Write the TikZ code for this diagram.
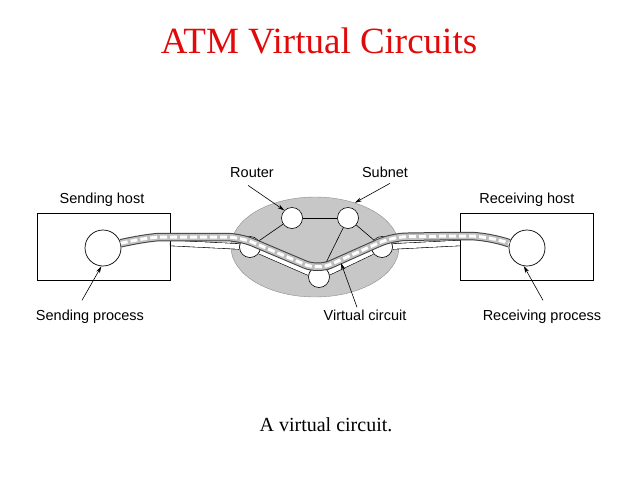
\documentclass[tikz,border=0pt]{standalone}
\usepackage{fontspec}
\setmainfont{Liberation Serif}
\setsansfont{Liberation Sans}
\usetikzlibrary{shapes.geometric,arrows.meta}
\pgfdeclarelayer{back}
\pgfsetlayers{back,main}
\definecolor{titlered}{RGB}{225,10,10}
\tikzset{
	host/.style={draw, line width=0.7pt, minimum width=133pt, minimum height=67pt, inner sep=0},
	proc/.style={draw, circle, line width=0.7pt, minimum size=36pt, inner sep=0},
	router/.style={draw, circle, fill=white, line width=0.6pt, minimum size=21pt, inner sep=0},
	link/.style={line width=0.6pt},
	wire/.style={line width=0.6pt, double=white, double distance=5pt},
	lbl/.style={font=\sffamily\fontsize{14.5}{17}\selectfont, inner sep=1pt, anchor=base},
	pointer/.style={line width=0.6pt, -{Stealth[length=7pt,width=4pt]}},
	tube/.style={line width=8.5pt, draw=black!75,
		postaction={draw=black!25, line width=6.5pt},
		postaction={draw=white, line width=3pt, dash pattern=on 7pt off 3pt}}
}

\begin{document}
\begin{tikzpicture}[x=1pt, y=-1pt]
	\useasboundingbox (0,0) rectangle (640,480);
	
	%%%%% TITLE %%%%%
	\node[anchor=base, text=titlered, font=\fontsize{37}{44}\selectfont] (title) at (319,53) {ATM Virtual Circuits};
	
	%%%%% SUBNET %%%%%
	\node[router] (r1) at (292,218) {};
	\node[router] (r2) at (348,218) {};
	\node[router] (r3) at (250,247) {};
	\node[router] (r4) at (319,277) {};
	\node[router] (r5) at (382,247) {};
	
	%%%%% HOSTS %%%%%
	\node[host] (shost) at (103.5,246.5) {};
	\node[host] (rhost) at (526.5,246.5) {};
	\node[proc] (sproc) at (103,248) {};
	\node[proc] (rproc) at (527,248) {};
	\coordinate (lin) at (170,243);
	\coordinate (rin) at (460,243);
	
	\begin{pgfonlayer}{back}
		\node[ellipse, fill=black!22, draw=black!45, line width=0.4pt, minimum width=168pt, minimum height=100pt] (subnet) at (315,247) {};
		\draw[link] (r1) -- (r2);
		\draw[link] (r1) -- (r3);
		\draw[link] (r2) -- (r4);
		\draw[link] (r2) -- (r5);
		\draw[wire] (lin) -- (r3);
		\draw[wire] (r3) -- (r4);
		\draw[wire] (r4) -- (r5);
		\draw[wire] (r5) -- (rin);
	\end{pgfonlayer}
	
	%%%%% VIRTUAL CIRCUIT %%%%%
	\draw[tube, rounded corners=14pt] (sproc.15) .. controls (140,239) and (155,237) .. (175,237) -- (240,237) -- (318,270) -- (392,237) -- (455,236) .. controls (480,236) and (497,239) .. (rproc.165);
	
	%%%%% LABELS %%%%%
	\node[lbl] (lshost) at (102,203) {Sending host};
	\node[lbl] (lrhost) at (527,203) {Receiving host};
	\node[lbl] (lsproc) at (90,320) {Sending process};
	\node[lbl] (lrproc) at (542,320) {Receiving process};
	\node[lbl] (lrouter) at (252,177) {Router};
	\node[lbl] (lsubnet) at (385,177) {Subnet};
	\node[lbl] (lvc) at (365,320) {Virtual circuit};
	\coordinate (vc) at (341,263);
	
	\draw[pointer] ([xshift=-4pt,yshift=-7pt]lrouter.south) -- (r1.135);
	\draw[pointer] ([xshift=5pt,yshift=-5pt]lsubnet.south) -- (subnet.48);
	\draw[pointer] ([xshift=-8pt,yshift=1pt]lvc.north) -- (vc);
	\draw[pointer] ([xshift=-8pt,yshift=8pt]lsproc.north) -- (sproc.-95);
	\draw[pointer] ([xshift=1pt,yshift=8pt]lrproc.north) -- (rproc.-100);
	
	%%%%% CAPTION %%%%%
	\node[anchor=base, font=\fontsize{20}{24}\selectfont] (caption) at (326,431) {A virtual circuit.};
\end{tikzpicture}
\end{document}
